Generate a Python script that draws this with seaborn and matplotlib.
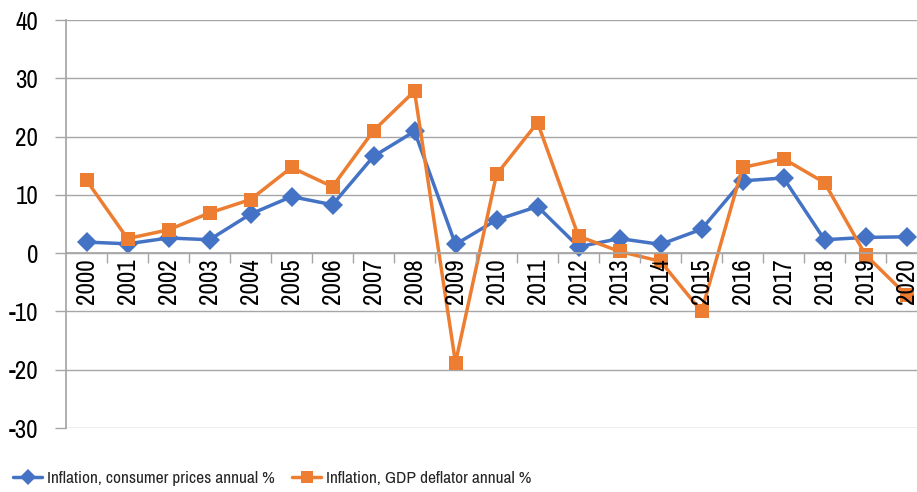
import matplotlib
matplotlib.use("Agg")
import matplotlib.pyplot as plt
from matplotlib import font_manager
import seaborn as sns
import pandas as pd

years = list(range(2000, 2021))
cpi = [1.9, 1.6, 2.6, 2.3, 6.7, 9.7, 8.3, 16.6, 20.9, 1.5, 5.7, 8.0, 1.1, 2.5, 1.5, 4.1, 12.4, 12.9, 2.3, 2.7, 2.8]
gdp = [12.5, 2.5, 4.0, 6.9, 9.2, 14.7, 11.4, 21.0, 27.8, -18.8, 13.5, 22.4, 2.9, 0.3, -1.4, -10.0, 14.7, 16.2, 12.1, -0.3, -7.2]
series_names = ["Inflation, consumer prices annual %", "Inflation, GDP deflator annual %"]
colors = ["#4472C4", "#ED7D31"]
yticks = [-30, -20, -10, 0, 10, 20, 30, 40]

sns.set_theme(style="white")
names = {f.name for f in font_manager.fontManager.ttflist}
prefs = ["Liberation Sans Narrow", "Arial Narrow", "Archivo Narrow", "PT Sans Narrow",
         "Roboto Condensed", "Open Sans Condensed", "Fira Sans Condensed",
         "IBM Plex Sans Condensed", "Barlow Semi Condensed", "Encode Sans Condensed",
         "Asap Condensed", "Sofia Sans Condensed", "Liberation Sans"]
fam = [f for f in prefs if f in names][:1] + ["DejaVu Sans"]
plt.rcParams["font.family"] = fam
plt.rcParams["axes.axisbelow"] = False

df = pd.DataFrame({
    "year": years * 2,
    "value": cpi + gdp,
    "series": [series_names[0]] * len(years) + [series_names[1]] * len(years),
})

fig = plt.figure(figsize=(9.17, 4.92), dpi=100)
ax = fig.add_axes([66 / 917, 1 - 428 / 492, (927 - 66) / 917, (428 - 20) / 492])
ax.set_axisbelow(False)

for yv in yticks:
    ax.axhline(yv, color="#A6A6A6", lw=1.0, zorder=0.5)

sns.lineplot(data=df, x="year", y="value", hue="series", style="series",
             palette=colors, markers=["D", "s"], dashes=False,
             markersize=10, linewidth=2.5, markeredgewidth=0, ax=ax, zorder=2)

ax.spines["bottom"].set_position(("data", 0))
ax.spines["bottom"].set_color("#A6A6A6")
ax.spines["left"].set_color("#A6A6A6")
ax.spines["top"].set_visible(False)
ax.spines["right"].set_visible(False)

ax.set_xlim(1999.5, 2020.5)
ax.set_ylim(-30, 40)
ax.set_yticks(yticks)
ax.set_yticklabels([str(v) for v in yticks], fontsize=18)
ax.set_xticks(years)
ax.set_xticklabels([str(y) for y in years], rotation=90, fontsize=18, va="top", ha="center")
ax.set_xticks([y + 0.5 for y in years[:-1]], minor=True)
ax.tick_params(axis="x", which="major", length=0, pad=4, labelcolor="black")
ax.tick_params(axis="x", which="minor", length=7, width=1, color="#A6A6A6", direction="out", bottom=True)
ax.tick_params(axis="y", which="major", length=8, width=1, color="#A6A6A6", direction="out", pad=12, left=True, labelcolor="black")
ax.xaxis.set_zorder(3)
ax.yaxis.set_zorder(3)
ax.set_xlabel("")
ax.set_ylabel("")

handles, labels = ax.get_legend_handles_labels()
ax.get_legend().remove()
for h in handles:
    h.set_markersize(8)
fig.legend(handles, labels, loc="center", bbox_to_anchor=(272 / 917, 1 - 478 / 492), ncol=2,
           frameon=False, fontsize=12.5, handlelength=1.7, handletextpad=0.25, columnspacing=1.0)

fig.savefig("out.png", dpi=100)
